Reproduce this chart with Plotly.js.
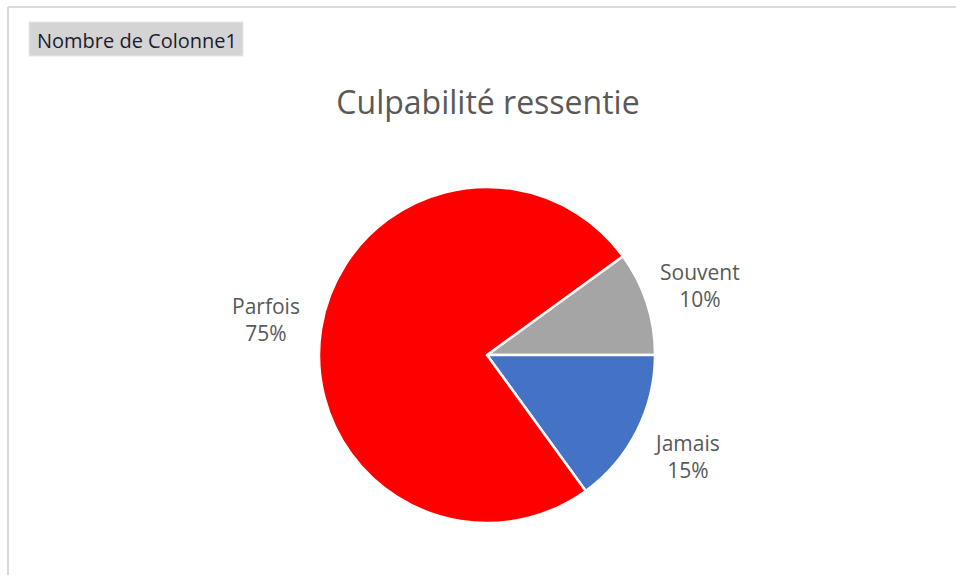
<!DOCTYPE html>
<html>
<head>
<meta charset="utf-8">
<script src="https://cdn.plot.ly/plotly-3.0.1.min.js"></script>
<style>
  html, body { margin: 0; padding: 0; background: #ffffff; }
  #chart { width: 956px; height: 575px; }
</style>
</head>
<body>
<div id="chart"></div>
<script>
const categories = ["Souvent", "Jamais", "Parfois"];
const counts = [2, 3, 15];
const sliceColors = ["#a5a5a5", "#4472c4", "#ff0000"];
const chartTitle = "Culpabilité ressentie";
const fieldButton = "Nombre de Colonne1";

const W = 956, H = 575;
const cx = 487, cy = 355, r = 168;
const startAngle = 54;     // degrees clockwise from 12 o'clock
const labelRadius = 224;   // px from pie centre

const trace = {
  type: "pie",
  labels: categories,
  values: counts,
  sort: false,
  direction: "clockwise",
  rotation: startAngle,
  marker: { colors: sliceColors, line: { color: "#ffffff", width: 2.5 } },
  textinfo: "none",
  hoverinfo: "label+value+percent",
  showlegend: false,
  domain: { x: [(cx - r) / W, (cx + r) / W], y: [(H - cy - r) / H, (H - cy + r) / H] }
};

// data labels placed at the mid-angle of each slice
const total = counts.reduce((a, b) => a + b, 0);
const labelAnnotations = [];
let acc = 0;
categories.forEach((cat, i) => {
  const frac = counts[i] / total;
  const mid = (startAngle + (acc + frac / 2) * 360) * Math.PI / 180;
  acc += frac;
  const px = cx + labelRadius * Math.sin(mid);
  const py = cy - labelRadius * Math.cos(mid);
  labelAnnotations.push({
    text: cat + "<br>" + Math.round(frac * 100) + "%",
    xref: "paper", yref: "paper",
    x: px / W, y: 1 - py / H,
    xanchor: "center", yanchor: "middle",
    showarrow: false, align: "center",
    font: { family: "Open Sans, sans-serif", size: 21, color: "#595959" }
  });
});

const layout = {
  width: W, height: H,
  margin: { l: 0, r: 0, t: 0, b: 0 },
  paper_bgcolor: "#ffffff",
  title: {
    text: chartTitle,
    font: { family: "Open Sans, sans-serif", size: 32, color: "#595959" },
    x: 488 / W, xanchor: "center",
    y: 1 - 103 / H, yanchor: "middle"
  },
  shapes: [
    { type: "line", xref: "paper", yref: "paper", x0: 8 / W, x1: 1, y0: 1 - 7 / H, y1: 1 - 7 / H, line: { color: "#d9d9d9", width: 2 } },
    { type: "line", xref: "paper", yref: "paper", x0: 8 / W, x1: 8 / W, y0: 0, y1: 1 - 7 / H, line: { color: "#d9d9d9", width: 2 } },
    { type: "rect", xref: "paper", yref: "paper", x0: 29 / W, x1: 243 / W, y0: 1 - 56 / H, y1: 1 - 22 / H, fillcolor: "#d4d4d4", line: { color: "#e6e6e6", width: 1 } }
  ],
  annotations: [
    { text: fieldButton, xref: "paper", yref: "paper", x: 137 / W, y: 1 - 40 / H, xanchor: "center", yanchor: "middle", showarrow: false,
      font: { family: "Open Sans, sans-serif", size: 20, color: "#1c1c30" } }
  ].concat(labelAnnotations)
};

Plotly.newPlot("chart", [trace], layout, { displayModeBar: false, staticPlot: true });
</script>
</body>
</html>
